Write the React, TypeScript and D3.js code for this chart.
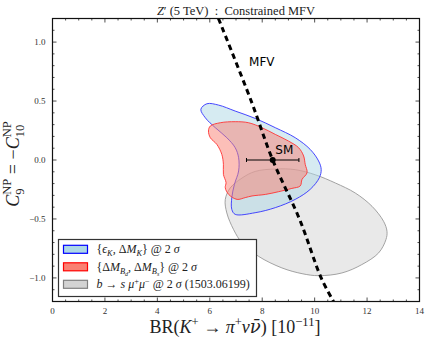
import React from "react";
import * as d3 from "d3";

// contours: [BR(K+ -> pi+ nu nubar) x 1e11, C9 = -C10]
const kaonContour: [number, number][] = [
  [5.66, 0.43], [5.89, 0.477], [6.33, 0.466], [6.97, 0.415], [7.73, 0.353],
  [8.5, 0.274], [9.26, 0.189], [9.83, 0.09], [10.15, -0.008], [10.25, -0.08],
  [10.18, -0.15], [9.83, -0.249], [9.26, -0.334], [8.5, -0.404], [7.73, -0.447],
  [6.97, -0.461], [6.84, -0.419], [6.84, -0.319], [6.94, -0.207], [7.1, -0.093],
  [7.1, 0.019], [6.97, 0.104], [6.65, 0.189], [6.21, 0.274], [5.83, 0.358],
];

const bmixContour: [number, number][] = [
  [6.02, 0.288], [6.4, 0.316], [6.97, 0.325], [7.48, 0.316], [7.99, 0.274],
  [8.5, 0.217], [9.0, 0.161], [9.39, 0.104], [9.58, 0.034], [9.64, -0.037],
  [9.71, -0.108], [9.52, -0.164], [9.45, -0.22], [9.13, -0.241], [8.62, -0.269],
  [8.12, -0.292], [7.61, -0.305], [7.35, -0.319], [7.04, -0.334], [6.72, -0.292],
  [6.59, -0.235], [6.62, -0.192], [6.52, -0.122], [6.52, -0.037], [6.46, 0.047],
  [6.27, 0.132], [6.02, 0.189], [5.95, 0.246],
];

const bsmmContour: [number, number][] = [
  [8.5, -0.076], [7.73, -0.097], [7.23, -0.153], [6.78, -0.237], [6.59, -0.336],
  [6.65, -0.449], [6.91, -0.591], [7.23, -0.703], [7.86, -0.817], [8.75, -0.915],
  [9.52, -0.964], [10.15, -0.981], [11.04, -0.958], [11.8, -0.887], [12.44, -0.788],
  [12.72, -0.675], [12.76, -0.605], [12.63, -0.52], [12.19, -0.393], [11.55, -0.28],
  [10.79, -0.195], [10.02, -0.125], [9.26, -0.082],
];

const mfvLine: [number, number][] = [
  [6.33, 1.2], [7.58, 0.5], [8.4, 0.0], [9.42, -0.5], [10.25, -1.0], [10.72, -1.2],
];

const smBR = 8.4;
const smErr = 1.0;
const smC9 = 0.0;

const xTicks = [0, 2, 4, 6, 8, 10, 12, 14];
const yTicks = [-1.0, -0.5, 0.0, 0.5, 1.0];

const W = 430;
const H = 344;
const margin = { top: 18.5, right: 10.5, bottom: 42.5, left: 52.5 };

type Seg = { t: string; i?: boolean; s?: number; f?: number; dx?: number; ff?: string };

const MathText = ({ segs, size, ...rest }: any) => {
  let prev = 0;
  return (
    <text fontSize={size} style={{ whiteSpace: "pre" }} {...rest}>
      {segs.map((g: Seg, k: number) => {
        const sh = (g.s ?? 0) * size;
        const dy = sh - prev;
        prev = sh;
        return (
          <tspan
            key={k}
            dy={dy || undefined}
            dx={g.dx}
            fontStyle={g.i ? "italic" : undefined}
            fontSize={g.f ? g.f * size : undefined}
            fontFamily={g.ff}
          >
            {g.t}
          </tspan>
        );
      })}
    </text>
  );
};

const legendItems = [
  {
    fill: "#add8e6",
    stroke: "#0000ff",
    segs: [
      { t: "{" }, { t: "ϵ", i: true }, { t: "K", i: true, s: 0.25, f: 0.7 },
      { t: ", Δ" }, { t: "M", i: true }, { t: "K", i: true, s: 0.25, f: 0.7 },
      { t: "} @ 2 " }, { t: "σ", i: true },
    ],
  },
  {
    fill: "#fa8072",
    stroke: "#ff0000",
    segs: [
      { t: "{Δ" }, { t: "M", i: true }, { t: "B", i: true, s: 0.25, f: 0.7 },
      { t: "d", i: true, s: 0.45, f: 0.5 },
      { t: ", Δ" }, { t: "M", i: true }, { t: "B", i: true, s: 0.25, f: 0.7 },
      { t: "s", i: true, s: 0.45, f: 0.5 },
      { t: "} @ 2 " }, { t: "σ", i: true },
    ],
  },
  {
    fill: "#d3d3d3",
    stroke: "#808080",
    segs: [
      { t: "b", i: true }, { t: " → " }, { t: "s", i: true }, { t: " " },
      { t: "μ", i: true }, { t: "+", s: -0.35, f: 0.7 }, { t: "μ", i: true },
      { t: "−", s: -0.35, f: 0.7 }, { t: " @ 2 " }, { t: "σ", i: true },
      { t: " (1503.06199)" },
    ],
  },
];

const App = () => {
  const x = d3.scaleLinear().domain([0, 14]).range([margin.left, W - margin.right]);
  const y = d3.scaleLinear().domain([-1.2, 1.2]).range([H - margin.bottom, margin.top]);

  const area = d3
    .line<[number, number]>()
    .x((d) => x(d[0]))
    .y((d) => y(d[1]))
    .curve(d3.curveCatmullRomClosed.alpha(0.5));
  const line = d3
    .line<[number, number]>()
    .x((d) => x(d[0]))
    .y((d) => y(d[1]))
    .curve(d3.curveCatmullRom.alpha(0.5));

  const x0 = margin.left;
  const x1 = W - margin.right;
  const y0 = H - margin.bottom;
  const y1 = margin.top;

  const xMinor = d3.range(0, 14.01, 0.5);
  const yMinor = d3.range(-1.2, 1.201, 0.1);

  const serif = "'Liberation Serif', 'DejaVu Serif', serif";
  const sans = "'DejaVu Sans', 'Liberation Sans', sans-serif";

  return (
    <svg
      width={W}
      height={H}
      style={{ position: "absolute", left: 0, top: 0, background: "#fff" }}
      fontFamily={serif}
    >
      <rect width={W} height={H} fill="#fff" />
      <clipPath id="plot-clip">
        <rect x={x0} y={y1} width={x1 - x0} height={y0 - y1} />
      </clipPath>

      <g clipPath="url(#plot-clip)">
        <path d={area(bsmmContour) ?? ""} fill="#d3d3d3" fillOpacity={0.5} stroke="#999" strokeWidth={0.9} />
        <path d={area(kaonContour) ?? ""} fill="#add8e6" fillOpacity={0.5} stroke="#3333ff" strokeWidth={0.9} />
        <path d={area(bmixContour) ?? ""} fill="#fa8072" fillOpacity={0.5} stroke="#ff3333" strokeWidth={0.9} />
        <path
          d={line(mfvLine) ?? ""}
          fill="none"
          stroke="#000"
          strokeWidth={3}
          strokeDasharray="5.5,4"
        />
        {/* SM point with error bar */}
        <line x1={x(smBR - smErr)} x2={x(smBR + smErr)} y1={y(smC9)} y2={y(smC9)} stroke="#000" strokeWidth={1} />
        <line x1={x(smBR - smErr)} x2={x(smBR - smErr)} y1={y(smC9) - 2} y2={y(smC9) + 2} stroke="#000" />
        <line x1={x(smBR + smErr)} x2={x(smBR + smErr)} y1={y(smC9) - 2} y2={y(smC9) + 2} stroke="#000" />
        <circle cx={x(smBR)} cy={y(smC9)} r={3} fill="#000" />
      </g>

      <text x={x(7.5)} y={y(0.8)} fontFamily={sans} fontSize={12}>MFV</text>
      <text x={x(8.5)} y={y(0.05)} fontFamily={sans} fontSize={12}>SM</text>

      {/* ticks on all four sides, pointing in */}
      <g stroke="#222" strokeWidth={0.8}>
        {xMinor.map((v) => {
          const major = Math.abs(v / 2 - Math.round(v / 2)) < 1e-6;
          const len = major ? 4 : 2;
          return (
            <g key={"x" + v}>
              <line x1={x(v)} x2={x(v)} y1={y0} y2={y0 - len} />
              <line x1={x(v)} x2={x(v)} y1={y1} y2={y1 + len} />
            </g>
          );
        })}
        {yMinor.map((v) => {
          const major = Math.abs(v * 2 - Math.round(v * 2)) < 1e-6;
          const len = major ? 4 : 2;
          return (
            <g key={"y" + v.toFixed(2)}>
              <line x1={x0} x2={x0 + len} y1={y(v)} y2={y(v)} />
              <line x1={x1} x2={x1 - len} y1={y(v)} y2={y(v)} />
            </g>
          );
        })}
      </g>
      <rect x={x0} y={y1} width={x1 - x0} height={y0 - y1} fill="none" stroke="#111" strokeWidth={1.2} />

      {xTicks.map((v) => (
        <text key={"xl" + v} x={x(v)} y={y0 + 12} fontSize={9} textAnchor="middle" fill="#333">
          {v}
        </text>
      ))}
      {yTicks.map((v) => (
        <text key={"yl" + v} x={x0 - 7} y={y(v) + 3} fontSize={9} textAnchor="end" fill="#333">
          {(v < 0 ? "−" : "") + Math.abs(v).toFixed(1)}
        </text>
      ))}

      {/* legend */}
      <g>
        <rect x={58.5} y={239.5} width={198} height={57} fill="#fff" stroke="#333" strokeWidth={1.2} />
        {legendItems.map((it, i) => {
          const cy = 249.3 + i * 17.5;
          return (
            <g key={i}>
              <rect x={63.5} y={cy - 4} width={24} height={8} fill={it.fill} stroke={it.stroke} strokeWidth={1.2} />
              <MathText segs={it.segs} size={12} x={96.5} y={cy + 4} fill="#222" />
            </g>
          );
        })}
      </g>

      {/* title */}
      <MathText
        size={12.5}
        x={236}
        y={14.5}
        textAnchor="middle"
        fill="#222"
        segs={[{ t: "Z", i: true }, { t: "′ (5 TeV)  :  Constrained MFV" }]}
      />

      {/* x label */}
      <MathText
        size={18}
        x={235}
        y={333}
        textAnchor="middle"
        fill="#222"
        segs={[
          { t: "BR(" }, { t: "K", i: true }, { t: "+", s: -0.4, f: 0.7 },
          { t: " → " }, { t: "π", i: true }, { t: "+", s: -0.4, f: 0.7 },
          { t: "ν", i: true }, { t: "ν\u0304", i: true, ff: "'DejaVu Serif', serif" },
          { t: ") [10" }, { t: "−11", s: -0.4, f: 0.7 }, { t: "]" },
        ]}
      />

      {/* y label */}
      <MathText
        size={18}
        x={0}
        y={0}
        textAnchor="middle"
        fill="#222"
        transform="translate(19,164) rotate(-90)"
        segs={[
          { t: "C", i: true }, { t: "9", s: 0.3, f: 0.7 },
          { t: "NP", s: -0.45, f: 0.7, dx: -6.3 },
          { t: " = −" }, { t: "C", i: true }, { t: "10", s: 0.3, f: 0.7 },
          { t: "NP", s: -0.45, f: 0.7, dx: -12.6 },
        ]}
      />
    </svg>
  );
};

export default App;
